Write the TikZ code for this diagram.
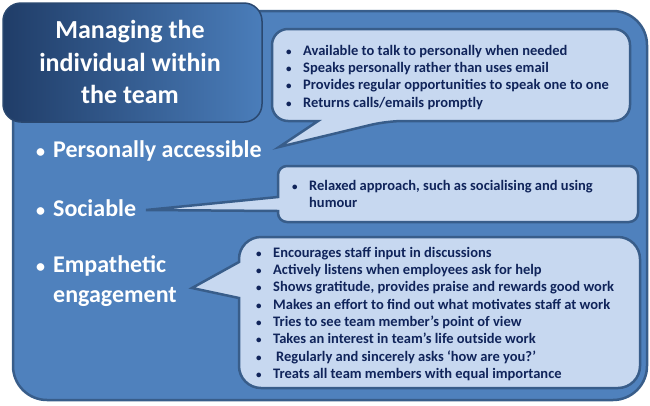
\documentclass[tikz,border=0pt]{standalone}
\usepackage{fontspec}
\setmainfont{Carlito}
\usepackage{xcolor}
\usepackage{tikz}
\usetikzlibrary{positioning}
\definecolor{panelblue}{RGB}{79,129,189}
\definecolor{panelline}{RGB}{56,93,138}
\definecolor{calloutfill}{RGB}{199,216,240}
\definecolor{titledark}{RGB}{32,61,104}
\definecolor{titlelight}{RGB}{74,125,186}
\definecolor{titleline}{RGB}{42,72,112}
\definecolor{navytext}{RGB}{16,36,90}
\newcommand{\bul}{\makebox[18pt][l]{\hspace{1pt}{\fontsize{11}{11}\selectfont\textbullet}}}
\newcommand{\sbul}{\makebox[18pt][l]{\hspace{1pt}{\fontsize{18}{18}\selectfont\textbullet}}}

\begin{document}
\begin{tikzpicture}[x=1pt, y=-1pt,
  callout/.style={fill=calloutfill, draw=panelline, line width=2.5pt},
  calltext/.style={anchor=north west, inner sep=0pt, align=left, text=navytext, font=\bfseries\fontsize{14.5}{17.3}\selectfont},
  sidetext/.style={anchor=west, inner sep=0pt, align=left, text=white, font=\bfseries\fontsize{24}{30}\selectfont}]
  \useasboundingbox (0,0) rectangle (650,405);
  % outer panel
  \draw[fill=panelblue, draw=panelline, line width=2.5pt, rounded corners=34pt] (13,11) rectangle (647,400);
  % title box
  \shade[left color=titledark, right color=titlelight, rounded corners=18pt] (3,3) rectangle (262,122);
  \draw[titleline, line width=1.5pt, rounded corners=18pt] (3,3) rectangle (262,122);
  \node[text=white, align=center, font=\bfseries\fontsize{26}{32.5}\selectfont] (title) at (130,62) {Managing the\\individual within\\the team};
  % callouts
  \draw[callout] (450,29) [rounded corners=16pt] -- (630,29) -- (630,121) -- (387,121) [sharp corners] -- (279,147) -- (318,121) [rounded corners=16pt] -- (272,121) -- (272,29) -- cycle;
  \draw[callout] (450,166) [rounded corners=9pt] -- (638,166) -- (638,222) -- (278,222) [sharp corners] -- (278,211) -- (146,210) -- (278,197) [rounded corners=9pt] -- (278,166) -- cycle;
  \draw[callout] (450,237) [rounded corners=22pt] -- (640,237) -- (640,388) -- (239,388) [sharp corners] -- (239,298) -- (192,288) -- (239,262) [rounded corners=22pt] -- (239,237) -- cycle;
  % left items
  \node[sidetext] (access) at (35,151) {\sbul Personally accessible};
  \node[sidetext] (social) at (35,208) {\sbul Sociable};
  \node[sidetext] (empath) at (35,281) {\sbul Empathetic\\\hspace*{18pt}engagement};
  % callout texts
  \node[calltext] (accesstext) at (285,45) {\bul Available to talk to personally when needed\\
    \bul Speaks personally rather than uses email\\
    \bul Provides regular opportunities to speak one to one\\
    \bul Returns calls/emails promptly};
  \node[calltext] (socialtext) at (291,180) {\bul Relaxed approach, such as socialising and using\\
    \hspace*{18pt}humour};
  \node[calltext] (empathtext) at (255,247) {\bul Encourages staff input in discussions\\
    \bul Actively listens when employees ask for help\\
    \bul Shows gratitude, provides praise and rewards good work\\
    \bul Makes an effort to find out what motivates staff at work\\
    \bul Tries to see team member’s point of view\\
    \bul Takes an interest in team’s life outside work\\
    \bul \hspace{3pt}Regularly and sincerely asks ‘how are you?’\\
    \bul Treats all team members with equal importance};
\end{tikzpicture}
\end{document}
